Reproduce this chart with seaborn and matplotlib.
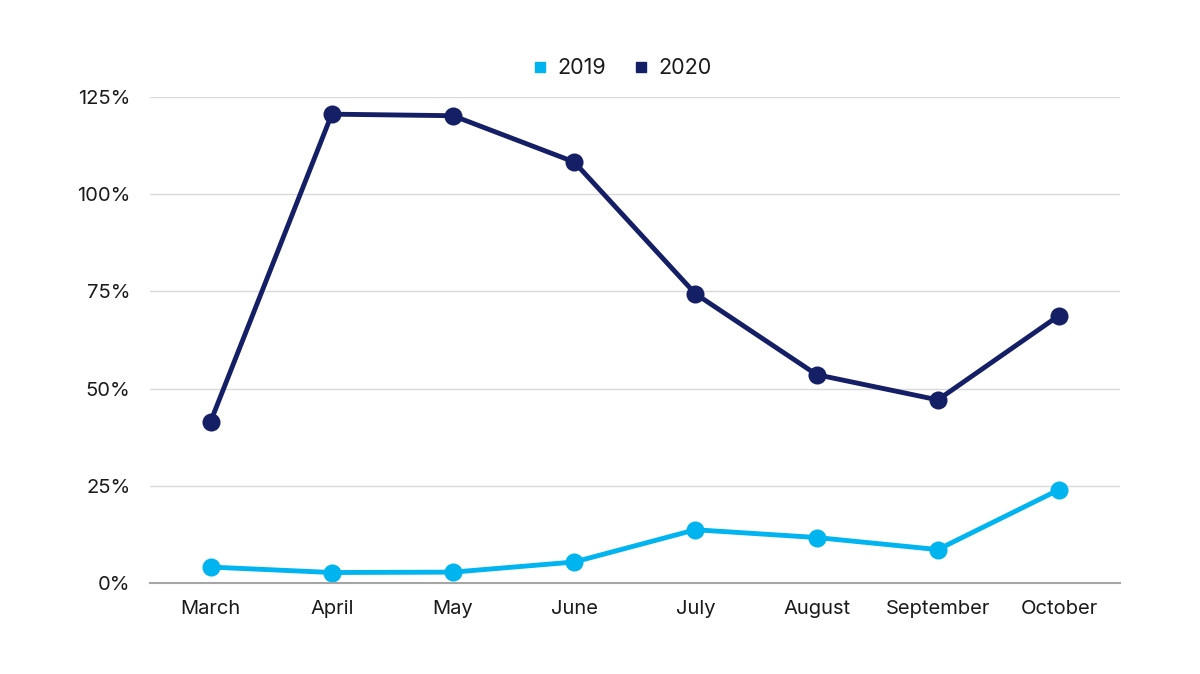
import pandas as pd
import matplotlib.pyplot as plt
import seaborn as sns
from matplotlib.ticker import FuncFormatter
from matplotlib.lines import Line2D

sns.set_style('white')
plt.rcParams['font.family'] = ['Inter', 'DejaVu Sans']

months = ['March', 'April', 'May', 'June', 'July', 'August', 'September', 'October']
values_2019 = [4.1, 2.7, 2.8, 5.4, 13.7, 11.7, 8.6, 24.0]
values_2020 = [41.5, 120.6, 120.2, 108.3, 74.4, 53.6, 47.1, 68.8]

df = pd.DataFrame({
    'month': months * 2,
    'value': values_2019 + values_2020,
    'year': ['2019'] * len(months) + ['2020'] * len(months),
})
palette = {'2019': '#00B4F0', '2020': '#141F66'}

fig = plt.figure(figsize=(12, 6.74), dpi=100)
ax = fig.add_axes([0.125, 0.135, 0.808, 0.721])

sns.lineplot(data=df, x='month', y='value', hue='year', palette=palette,
             marker='o', markersize=13, markeredgewidth=0, linewidth=3.5,
             sort=False, legend=False, ax=ax, clip_on=False)

ax.set_xlim(-0.5, len(months) - 0.5)
ax.set_ylim(0, 125)
ax.set_yticks([0, 25, 50, 75, 100, 125])
ax.yaxis.set_major_formatter(FuncFormatter(lambda v, _: f'{v:.0f}%'))
ax.grid(axis='y', color='#D9D9D9', linewidth=1)
ax.set_axisbelow(True)
for s in ['top', 'right', 'left']:
    ax.spines[s].set_visible(False)
ax.spines['bottom'].set_color('#A6A6A6')
ax.spines['bottom'].set_linewidth(1.5)
ax.tick_params(axis='both', length=0, labelsize=14.5, colors='#1a1a1a')
ax.tick_params(axis='x', pad=12)
ax.tick_params(axis='y', pad=14)
ax.set_xlabel('')
ax.set_ylabel('')

handles = [Line2D([], [], marker='s', linestyle='', color=palette[k], markersize=6.5, label=k)
           for k in ['2019', '2020']]
fig.legend(handles=handles, loc='center', bbox_to_anchor=(0.518, 0.899), ncol=2,
           frameon=False, fontsize=15.5, handlelength=0.8, handletextpad=0.4,
           columnspacing=1.2, labelcolor='#1a1a1a')

fig.savefig('out.png', dpi=100)
